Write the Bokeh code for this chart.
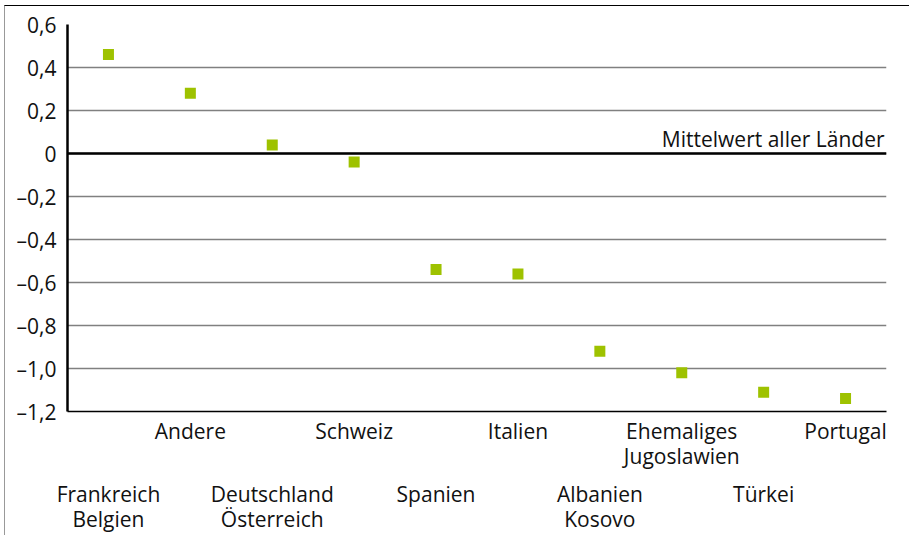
from bokeh.plotting import figure
from bokeh.models import Range1d, FixedTicker, LinearAxis, Span, Label, InlineStyleSheet
from bokeh.embed import file_html
from bokeh.resources import INLINE

countries = ["Frankreich\nBelgien", "Andere", "Deutschland\nÖsterreich", "Schweiz", "Spanien",
             "Italien", "Albanien\nKosovo", "Ehemaliges\nJugoslawien", "Türkei", "Portugal"]
values = [0.46, 0.28, 0.04, -0.04, -0.54, -0.56, -0.92, -1.02, -1.11, -1.14]
y_ticks = [-1.2, -1.0, -0.8, -0.6, -0.4, -0.2, 0.0, 0.2, 0.4, 0.6]
y_tick_labels = ["–1,2", "–1,0", "–0,8", "–0,6", "–0,4", "–0,2", "0", "0,2", "0,4", "0,6"]
mean_label = "Mittelwert aller Länder"

FONT = "Open Sans"
FS = "21px"
idx = list(range(len(countries)))

p = figure(width=905, height=530, output_backend="svg", toolbar_location=None,
           x_range=Range1d(-0.5, len(countries) - 0.5), y_range=Range1d(-1.2, 0.6),
           x_axis_location=None, min_border_left=62, min_border_right=24,
           min_border_top=18, min_border_bottom=125)
p.stylesheets = [InlineStyleSheet(css=":host { margin-top: 5px; margin-left: 4px; "
                                      "border-top: 1px solid #000; border-left: 1px solid #999; }")]
p.outline_line_color = None
p.background_fill_color = "white"

# y axis
yax = p.yaxis[0]
yax.ticker = FixedTicker(ticks=y_ticks)
yax.major_label_overrides = {t: l for t, l in zip(y_ticks, y_tick_labels)}
yax.major_tick_line_color = None
yax.minor_tick_line_color = None
yax.axis_line_color = "black"
yax.axis_line_width = 2.5
yax.major_label_text_font = FONT
yax.major_label_text_font_size = FS
yax.major_label_text_color = "#111111"
yax.major_label_standoff = 5

p.xgrid.visible = False
p.ygrid[0].ticker = FixedTicker(ticks=y_ticks)
p.ygrid.grid_line_color = "#808080"
p.ygrid.grid_line_width = 1.5

# staggered category axes
row1 = [i for i in idx if i % 2 == 1]
row2 = [i for i in idx if i % 2 == 0]
ax1 = LinearAxis(ticker=FixedTicker(ticks=row1),
                 major_label_overrides={i: countries[i] for i in row1})
ax2 = LinearAxis(ticker=FixedTicker(ticks=row2),
                 major_label_overrides={i: countries[i] for i in row2})
for ax in (ax1, ax2):
    ax.major_tick_line_color = None
    ax.minor_tick_line_color = None
    ax.major_label_text_font = FONT
    ax.major_label_text_font_size = FS
    ax.major_label_text_color = "#111111"
    ax.major_label_text_line_height = 0.92
ax1.axis_line_color = "black"
ax1.axis_line_width = 1.5
ax1.major_label_standoff = -1
ax2.axis_line_color = None
ax2.major_label_standoff = 0
p.add_layout(ax1, "below")
p.add_layout(ax2, "below")

# mean line
p.add_layout(Span(location=0, dimension="width", line_color="black", line_width=2.5))
p.add_layout(Label(x=len(countries) - 0.5, y=0, text=mean_label, text_align="right",
                   text_baseline="bottom", x_offset=-2, y_offset=1,
                   text_font=FONT, text_font_size=FS, text_color="#111111"))

p.scatter(idx, values, marker="square", size=11, fill_color="#9EC200",
          line_color=None)

open("out.html", "w").write(file_html(p, INLINE))
